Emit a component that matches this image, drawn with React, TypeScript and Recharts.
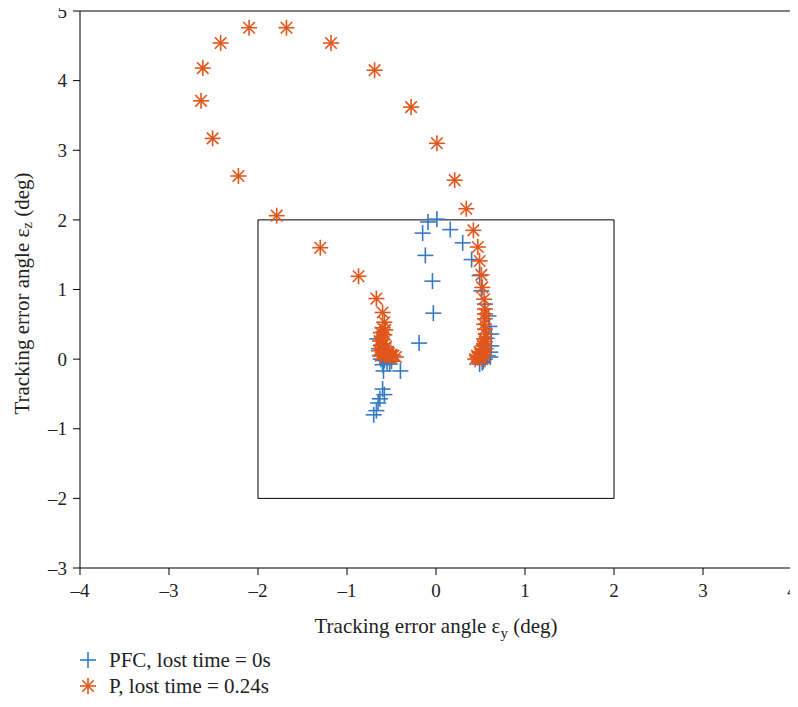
import React from 'react';
import {
  ScatterChart,
  Scatter,
  XAxis,
  YAxis,
  ReferenceLine,
  ReferenceArea,
  Label,
} from 'recharts';

const FONT = '"Liberation Serif", "DejaVu Serif", serif';
const BLUE = '#3778c2';
const ORANGE = '#e0561b';

const xTicks = [-4, -3, -2, -1, 0, 1, 2, 3, 4];
const yTicks = [-3, -2, -1, 0, 1, 2, 3, 4, 5];

// PFC, lost time = 0s
const pfcX = [
  -0.70, -0.67, -0.65, -0.63, -0.58, -0.60, -0.59, -0.40, -0.19, -0.03,
  -0.04, -0.12, -0.15, -0.09, 0.01, 0.16, 0.30, 0.40, 0.49, 0.51,
  0.55, 0.59, 0.62, 0.62, 0.61, 0.49, 0.55, 0.58, 0.53, -0.66,
  -0.64, -0.63, -0.62, -0.58, -0.55, -0.52, -0.50, -0.60, 0.60, 0.57,
  0.61, 0.52,
];
const pfcY = [
  -0.80, -0.74, -0.63, -0.57, -0.51, -0.43, -0.17, -0.17, 0.23, 0.66,
  1.12, 1.49, 1.81, 1.97, 2.01, 1.86, 1.67, 1.43, 1.20, 0.98,
  0.79, 0.62, 0.36, 0.19, 0.10, -0.07, 0.00, 0.05, -0.03, 0.29,
  0.15, 0.05, 0.00, -0.02, -0.05, -0.07, -0.03, -0.08, 0.47, 0.30,
  0.03, -0.05,
];

// P, lost time = 0.24s
const pX = [
  -2.10, -1.68, -2.42, -1.18, -2.62, -0.69, -2.64, -0.28, -2.51, 0.01,
  -2.22, 0.21, 0.34, -1.79, 0.42, -1.30, 0.47, -0.87, 0.49, -0.67,
  0.51, 0.52, 0.54, 0.55, 0.55, 0.55, 0.54, 0.53, 0.49, 0.46,
  0.44, 0.55, 0.54, 0.56, 0.55, 0.52, 0.50, 0.48, 0.51, 0.53,
  0.47, 0.52, 0.55, 0.56, 0.54, -0.60, -0.58, -0.60, -0.62, -0.61,
  -0.63, -0.62, -0.61, -0.60, -0.58, -0.55, -0.52, -0.50, -0.48, -0.57,
  -0.59, -0.56, -0.54, -0.60, -0.58, -0.57, -0.53, -0.62, -0.45, -0.64,
];
const pY = [
  4.76, 4.76, 4.54, 4.54, 4.18, 4.15, 3.71, 3.62, 3.17, 3.10,
  2.63, 2.57, 2.16, 2.06, 1.85, 1.60, 1.61, 1.19, 1.41, 0.87,
  1.21, 1.03, 0.86, 0.72, 0.58, 0.43, 0.29, 0.19, 0.10, 0.05,
  0.00, 0.65, 0.50, 0.36, 0.25, 0.14, 0.08, 0.03, 0.06, 0.12,
  0.02, 0.00, 0.05, 0.15, 0.22, 0.67, 0.53, 0.45, 0.38, 0.32,
  0.26, 0.20, 0.15, 0.10, 0.07, 0.05, 0.04, 0.06, 0.05, 0.12,
  0.22, 0.18, 0.10, 0.28, 0.35, 0.42, 0.08, 0.05, 0.03, 0.12,
];

const pfcData = pfcX.map((x, i) => ({ x, y: pfcY[i] }));
const pData = pX.map((x, i) => ({ x, y: pY[i] }));

const fmt = (v: number) => (v < 0 ? '\u2013' + Math.abs(v) : String(v));

function PlusMark({ cx, cy }: { cx?: number; cy?: number }) {
  if (cx == null || cy == null) return null;
  const r = 8;
  return (
    <g stroke={BLUE} strokeWidth={1.6}>
      <line x1={cx - r} y1={cy} x2={cx + r} y2={cy} />
      <line x1={cx} y1={cy - r} x2={cx} y2={cy + r} />
    </g>
  );
}

function StarMark({ cx, cy }: { cx?: number; cy?: number }) {
  if (cx == null || cy == null) return null;
  const r = 8;
  const d = r * 0.72;
  return (
    <g stroke={ORANGE} strokeWidth={1.6}>
      <line x1={cx - r} y1={cy} x2={cx + r} y2={cy} />
      <line x1={cx} y1={cy - r} x2={cx} y2={cy + r} />
      <line x1={cx - d} y1={cy - d} x2={cx + d} y2={cy + d} />
      <line x1={cx - d} y1={cy + d} x2={cx + d} y2={cy - d} />
    </g>
  );
}

function XTitle(props: any) {
  const vb = props.viewBox || {};
  const cx = vb.x + vb.width / 2;
  return (
    <text x={cx} y={vb.y + 65} textAnchor="middle" fontFamily={FONT} fontSize={21} fill="#222">
      Tracking error angle ε
      <tspan fontSize={15} dy={5}>y</tspan>
      <tspan dy={-5}> (deg)</tspan>
    </text>
  );
}

function YTitle(props: any) {
  const vb = props.viewBox || {};
  const cy = vb.y + vb.height / 2 + 4;
  const x = 22;
  return (
    <text
      x={x}
      y={cy}
      transform={`rotate(-90, ${x}, ${cy})`}
      textAnchor="middle"
      dominantBaseline="central"
      fontFamily={FONT}
      fontSize={21}
      fill="#222"
    >
      Tracking error angle ε
      <tspan fontSize={15} dy={5}>z</tspan>
      <tspan dy={-5}> (deg)</tspan>
    </text>
  );
}

const tickStyle = { fontFamily: FONT, fontSize: 19, fill: '#222' };

export default function App() {
  return (
    <div style={{ position: 'relative', width: 798, height: 707, margin: -8 }}>
      <ScatterChart width={798} height={707} margin={{ top: 11, right: 6, left: 0, bottom: 0 }}>
        <XAxis
          type="number"
          dataKey="x"
          domain={[-4, 4]}
          ticks={xTicks}
          tickFormatter={fmt}
          interval={0}
          height={139}
          tickSize={7}
          tickMargin={9}
          tick={tickStyle}
          stroke="#000"
          axisLine={{ stroke: '#000' }}
          tickLine={{ stroke: '#000' }}
          allowDataOverflow
        >
          <Label content={XTitle} />
        </XAxis>
        <YAxis
          type="number"
          dataKey="y"
          domain={[-3, 5]}
          ticks={yTicks}
          tickFormatter={fmt}
          interval={0}
          width={80}
          tickSize={7}
          tickMargin={6}
          tick={tickStyle}
          stroke="#000"
          axisLine={{ stroke: '#000' }}
          tickLine={{ stroke: '#000' }}
          allowDataOverflow
        >
          <Label content={YTitle} />
        </YAxis>
        <ReferenceLine y={5} stroke="#000" strokeWidth={1} />
        <ReferenceLine x={4} stroke="#000" strokeWidth={1} />
        <ReferenceArea x1={-2} x2={2} y1={-2} y2={2} fill="none" stroke="#000" strokeWidth={1} fillOpacity={0} />
        <Scatter data={pfcData} shape={PlusMark} isAnimationActive={false} />
        <Scatter data={pData} shape={StarMark} isAnimationActive={false} />
      </ScatterChart>
      <div
        style={{
          position: 'absolute',
          left: 78,
          top: 647,
          fontFamily: FONT,
          fontSize: 21,
          color: '#222',
          lineHeight: '26px',
          whiteSpace: 'nowrap',
        }}
      >
        <div style={{ display: 'flex', alignItems: 'center' }}>
          <svg width={20} height={20} style={{ marginRight: 11 }}>
            <PlusMark cx={10} cy={10} />
          </svg>
          PFC, lost time = 0s
        </div>
        <div style={{ display: 'flex', alignItems: 'center' }}>
          <svg width={20} height={20} style={{ marginRight: 11 }}>
            <StarMark cx={10} cy={10} />
          </svg>
          P, lost time = 0.24s
        </div>
      </div>
    </div>
  );
}
